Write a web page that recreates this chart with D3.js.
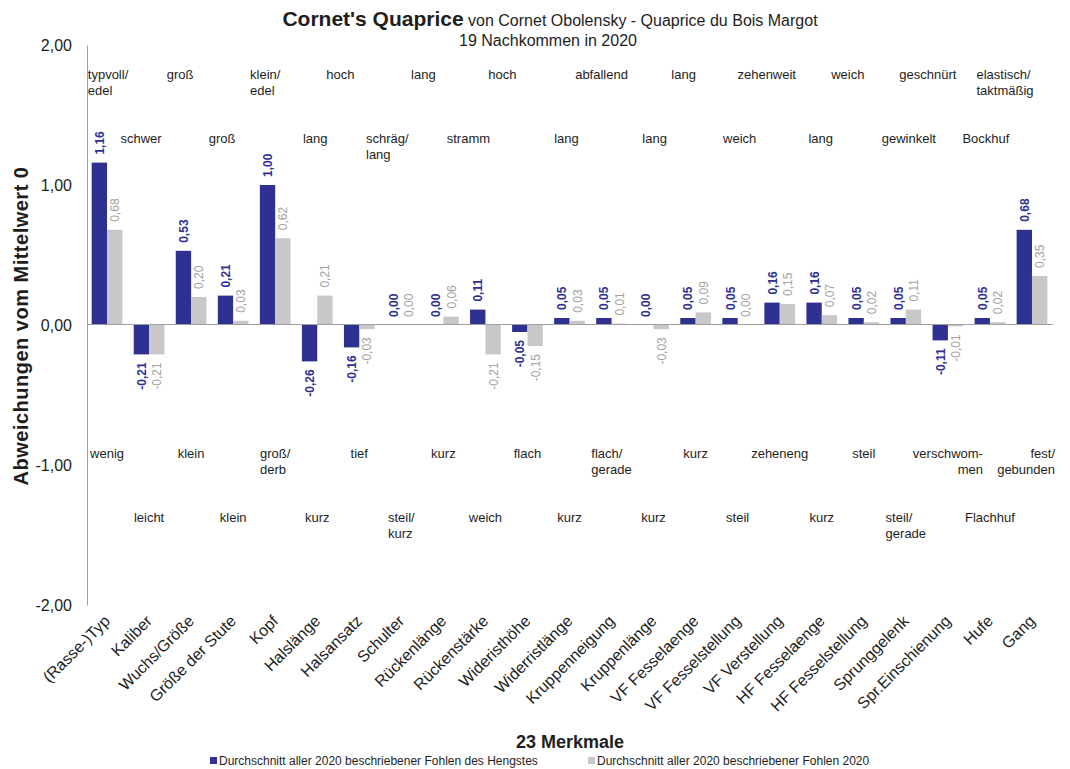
<!DOCTYPE html>
<html lang="de">
<head>
<meta charset="utf-8">
<script src="https://cdn.jsdelivr.net/npm/d3@7"></script>
<style>
  html, body { margin: 0; padding: 0; background: #ffffff; }
  svg { display: block; font-family: "Liberation Sans", Arial, sans-serif; }
</style>
</head>
<body>
<svg id="chart" width="1070" height="769"></svg>
<script>
// Merkmale (categories)
const merkmale = [
  "(Rasse-)Typ", "Kaliber", "Wuchs/Größe", "Größe der Stute", "Kopf", "Halslänge",
  "Halsansatz", "Schulter", "Rückenlänge", "Rückenstärke", "Wideristhöhe",
  "Widerristlänge", "Kruppenneigung", "Kruppenlänge", "VF Fesselaenge",
  "VF Fesselstellung", "VF Verstellung", "HF Fesselaenge", "HF Fesselstellung",
  "Sprunggelenk", "Spr.Einschienung", "Hufe", "Gang"
];

// Average of the stallion's foals
const hengstWerte = [
  1.16, -0.21, 0.53, 0.21, 1.00, -0.26, -0.16, 0.00, 0.00, 0.11, -0.05, 0.05,
  0.05, 0.00, 0.05, 0.05, 0.16, 0.16, 0.05, 0.05, -0.11, 0.05, 0.68
];

// Average of all foals described in 2020
const alleWerte = [
  0.68, -0.21, 0.20, 0.03, 0.62, 0.21, -0.03, 0.00, 0.06, -0.21, -0.15, 0.03,
  0.01, -0.03, 0.09, 0.00, 0.15, 0.07, 0.02, 0.11, -0.01, 0.02, 0.35
];

// Positive pole of each trait (above the bars)
const polOben = [
  "typvoll/\nedel", "schwer", "groß", "groß", "klein/\nedel", "lang", "hoch",
  "schräg/\nlang", "lang", "stramm", "hoch", "lang", "abfallend", "lang", "lang",
  "weich", "zehenweit", "lang", "weich", "gewinkelt", "geschnürt", "Bockhuf",
  "elastisch/\ntaktmäßig"
];

// Negative pole of each trait (below the bars)
const polUnten = [
  "wenig", "leicht", "klein", "klein", "groß/\nderb", "kurz", "tief",
  "steil/\nkurz", "kurz", "weich", "flach", "kurz", "flach/\ngerade", "kurz", "kurz",
  "steil", "zeheneng", "kurz", "steil", "steil/\ngerade", "verschwom-\nmen", "Flachhuf",
  "fest/\ngebunden"
];

const yTicks = [2, 1, 0, -1, -2];
const serien = [
  "Durchschnitt aller 2020 beschriebener Fohlen des Hengstes",
  "Durchschnitt aller 2020 beschriebener Fohlen 2020"
];

// ---- layout & style ----
const plot = { left: 86, right: 1053, top: 45, bottom: 605 };
const BLUE = "#2E3192", GREY = "#C8C8C8", GREY_TXT = "#A3A3A3", TXT = "#1e1e1e", AXIS = "#A0A0A0";
// horizontal nudges of the upper pole captions relative to their trait
const obenVersatz = [1, -8, -11, -11, -10, -2, -19, -14, -20, -17, -25, -3,
  -10, 1, -12, 2, -13, -1, -16, 3, -20, -4, -27];
const rechtsbuendig = new Set([20, 22]);

const svg = d3.select("#chart");

const x = d3.scaleBand().domain(merkmale).range([plot.left, plot.right]).paddingInner(0).paddingOuter(0);
const xs = d3.scaleBand().domain([0, 1]).range([0, x.bandwidth()]).paddingInner(0).paddingOuter(0.37);
const y = d3.scaleLinear().domain([-2, 2]).range([plot.bottom, plot.top]);
const fmt = v => d3.format(".2f")(v).replace(".", ",").replace("−", "-");

// title
const title = svg.append("text")
  .attr("x", 550).attr("y", 26).attr("text-anchor", "middle").attr("fill", TXT);
title.append("tspan").attr("font-size", 21).attr("font-weight", "bold").text("Cornet's Quaprice");
title.append("tspan").attr("font-size", 16).text(" von Cornet Obolensky - Quaprice du Bois Margot");
svg.append("text").attr("x", 548).attr("y", 46).attr("text-anchor", "middle")
  .attr("font-size", 16).attr("fill", TXT).text("19 Nachkommen in 2020");

// y axis
const yAxis = d3.axisLeft(y).tickValues(yTicks).tickSize(0).tickPadding(15).tickFormat(fmt);
const gy = svg.append("g").attr("transform", `translate(${plot.left + 1},0)`).call(yAxis);
gy.select(".domain").attr("stroke", AXIS).attr("stroke-width", 1);
gy.selectAll("text").attr("font-size", 16).attr("fill", TXT)
  .attr("font-family", "Liberation Sans, Arial, sans-serif");

svg.append("text")
  .attr("transform", `translate(28,${y(0) + 1}) rotate(-90)`)
  .attr("text-anchor", "middle").attr("font-size", 20).attr("font-weight", "bold")
  .attr("letter-spacing", 0.5).attr("fill", TXT)
  .text("Abweichungen vom Mittelwert 0");

// bars
const data = merkmale.map((m, i) => ({ m, i, werte: [hengstWerte[i], alleWerte[i]] }));
const groups = svg.append("g").selectAll("g").data(data).join("g")
  .attr("transform", d => `translate(${x(d.m)},0)`);

groups.selectAll("rect").data(d => d.werte.map((v, s) => ({ v, s }))).join("rect")
  .attr("x", d => xs(d.s))
  .attr("width", xs.bandwidth())
  .attr("y", d => y(Math.max(0, d.v)))
  .attr("height", d => Math.abs(y(d.v) - y(0)))
  .attr("fill", d => d.s === 0 ? BLUE : GREY);

// value labels (rotated)
groups.selectAll("text.val").data(d => d.werte.map((v, s) => ({ v, s }))).join("text")
  .attr("class", "val")
  .attr("transform", d => {
    const cx = xs(d.s) + xs.bandwidth() / 2 + 4.5;
    const cy = d.v >= 0 ? y(d.v) - 8 : y(d.v) + 8;
    return `translate(${cx},${cy}) rotate(-90)`;
  })
  .attr("text-anchor", d => d.v >= 0 ? "start" : "end")
  .attr("font-size", 12)
  .attr("font-weight", d => d.s === 0 ? "bold" : "normal")
  .attr("fill", d => d.s === 0 ? BLUE : GREY_TXT)
  .text(d => fmt(d.v));

// zero line
svg.append("line")
  .attr("x1", plot.left + 1).attr("x2", plot.right)
  .attr("y1", Math.round(y(0)) - 0.5).attr("y2", Math.round(y(0)) - 0.5)
  .attr("stroke", AXIS).attr("stroke-width", 1);

// pole captions: two rows above and two rows below, alternating by trait
function caption(txt, cx, baseY, right) {
  const lines = txt.split("\n");
  const g = svg.append("g");
  const t = g.append("text").attr("font-size", 13).attr("fill", TXT);
  lines.forEach((ln, k) => {
    t.append("tspan").attr("x", 0).attr("y", baseY + k * 15.5).text(ln);
  });
  const tsp = t.selectAll("tspan").nodes();
  const widths = tsp.map(n => n.getComputedTextLength());
  const bw = d3.max(widths);
  if (right) {
    tsp.forEach((n, k) => d3.select(n).attr("x", bw - widths[k]));
  }
  let left = cx - bw / 2;
  left = Math.min(left, 1055 - bw);
  g.attr("transform", `translate(${left},0)`);
}

merkmale.forEach((m, i) => {
  const cx = x(m) + x.bandwidth() / 2;
  const oben = i % 2 === 0 ? 79 : 143;
  const unten = i % 2 === 0 ? 458 : 522;
  caption(polOben[i], cx + obenVersatz[i], oben, false);
  caption(polUnten[i], cx, unten, rechtsbuendig.has(i));
});

// category labels
const xAxis = d3.axisBottom(x).tickSize(0).tickPadding(0);
const gx = svg.append("g").attr("transform", `translate(0,${plot.bottom})`).call(xAxis);
gx.select(".domain").remove();
gx.selectAll(".tick text")
  .attr("font-size", 16).attr("fill", TXT)
  .attr("font-family", "Liberation Sans, Arial, sans-serif")
  .attr("text-anchor", "end")
  .attr("dy", 0).attr("y", 0)
  .attr("transform", "translate(4,17) rotate(-45)");

// x axis title
svg.append("text").attr("x", 570).attr("y", 748).attr("text-anchor", "middle")
  .attr("font-size", 18).attr("font-weight", "bold").attr("fill", TXT).text("23 Merkmale");

// legend
const legendX = [210, 588];
const lg = svg.append("g").selectAll("g").data(serien).join("g")
  .attr("transform", (d, i) => `translate(${legendX[i]},757)`);
lg.append("rect").attr("width", 7).attr("height", 7).attr("y", 0)
  .attr("fill", (d, i) => i === 0 ? BLUE : GREY);
lg.append("text").attr("x", 9).attr("y", 8).attr("font-size", 12).attr("fill", TXT)
  .text(d => d);
</script>
</body>
</html>
